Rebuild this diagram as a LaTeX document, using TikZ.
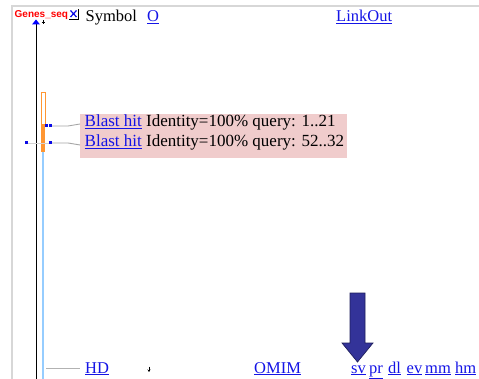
\documentclass[tikz,border=0pt]{standalone}
\usepackage{fontspec}
\setmainfont{Liberation Serif}
\newfontfamily\sansfnt{Liberation Sans}
\usetikzlibrary{arrows.meta}
\definecolor{linkblue}{RGB}{20,20,230}
\definecolor{pinkbg}{RGB}{240,204,204}
\definecolor{borderg}{RGB}{215,215,215}
\definecolor{orng}{RGB}{255,150,50}
\definecolor{ltblue}{RGB}{150,205,255}
\definecolor{navy}{RGB}{51,51,153}
\definecolor{dotblue}{RGB}{10,10,230}
\newcommand{\lnk}[1]{\textcolor{linkblue}{\underline{#1}}}
\tikzset{
  txt/.style={anchor=base west, inner sep=0pt, font=\fontsize{16.5}{19}\selectfont},
  btxt/.style={anchor=base west, inner sep=0pt, font=\fontsize{17}{20}\selectfont},
  dotsq/.style={fill=dotblue, draw=none, minimum size=3pt, inner sep=0pt},
  connector/.style={draw=gray!70, line width=0.9pt},
  border/.style={draw=borderg, line width=1.5pt}
}
\begin{document}
\begin{tikzpicture}[x=1pt,y=-1pt]
\useasboundingbox (0,0) rectangle (479,379);
\fill[white] (0,0) rectangle (479,379);
% frame
\draw[border] (11,6) -- (479,6);
\draw[border] (12,6) -- (12,379);
% header
\node[anchor=base west, inner sep=0pt, text=red, font=\sansfnt\bfseries\fontsize{10}{11}\selectfont] (genes) at (14.5,18) {Genes\_seq};
\coordinate (xb) at (69,18.5);
\draw[dotblue, line width=1.2pt] ([shift={(1.5,-1.5)}]xb) -- ([shift={(7.5,-8)}]xb)
  ([shift={(1.5,-8)}]xb) -- ([shift={(7.5,-1.5)}]xb);
\draw[black, line width=0.8pt] ([shift={(0,0.5)}]xb) -- ([shift={(9.5,0.5)}]xb) -- ([shift={(9.5,-9)}]xb);
\node[txt] (symbol) at (85.5,22) {Symbol};
\node[txt] (o) at (147,22) {\lnk{O}};
\node[txt] (linkout) at (336,22) {\lnk{LinkOut}};
% axis
\coordinate (axtop) at (36,22);
\coordinate (axbot) at (36,379);
\draw[black, line width=1pt] (axtop) -- (axbot);
\fill[blue] (32,24.5) -- (40,24.5) -- (36,19.5) -- cycle;
\draw[black, line width=0.6pt] (41.5,22.5) -- (44.5,22.5) (43,20.5) -- (43,24);
% orange features
\draw[orng, line width=0.8pt, fill=white] (41,92) rectangle (45,124);
\fill[orng] (40.6,124) rectangle (45.4,152);
\draw[ltblue, line width=2pt] (43,152) -- (43,379);
% blast label
\node[fill=pinkbg, anchor=north west, minimum width=267pt, minimum height=44pt, inner sep=0pt] (lbl) at (80,113.5) {};
\node[btxt] (b1) at (84.5,126.5) {\lnk{Blast hit} Identity=100\% query: 1..21};
\node[btxt] (b2) at (84.5,146.5) {\lnk{Blast hit} Identity=100\% query: 52..32};
% dots
\node[dotsq] (d1) at (46.5,126) {};
\node[dotsq] (d2) at (50.5,126) {};
\node[dotsq] (d3) at (26,143) {};
\node[dotsq] (d4) at (50.5,143) {};
\coordinate (k1) at (68,126);
\coordinate (k2) at (68,143);
\coordinate (e1) at (lbl.west |- 0,124);
\coordinate (e2) at (lbl.west |- 0,145);
\draw[connector] (d2.east) -- (k1) -- (e1);
\draw[connector, draw=gray!35] (d3.east) -- (d4.west);
\draw[connector] (d4.east) -- (k2) -- (e2);
% bottom line
\coordinate (hl) at (46,368);
\node[txt] (hd) at (85,373) {\lnk{HD}};
\draw[connector, draw=gray!60] (hl) -- ([xshift=-5pt]hd.west |- hl);
\draw[black, line width=0.7pt, -{Stealth[length=2.5pt,width=3pt]}] (149,366.5) -- (149,372);
\node[txt] (omim) at (254,373) {\lnk{OMIM}};
\node[txt] (sv) at (351,373) {\lnk{sv}};
\node[txt] (pr) at (369,373) {\lnk{pr}};
\node[txt] (dl) at (388,373) {\lnk{dl}};
\node[txt] (ev) at (406.5,373) {\lnk{ev}};
\node[txt] (mm) at (425,373) {\lnk{mm}};
\node[txt] (hm) at (455,373) {\lnk{hm}};
% big arrow
\filldraw[fill=navy, draw=navy!60!black, line width=0.7pt]
  (350,293) -- (365,293) -- (365,343) -- (373,343) -- (357.5,362) -- (342,343) -- (350,343) -- cycle;
\end{tikzpicture}
\end{document}
